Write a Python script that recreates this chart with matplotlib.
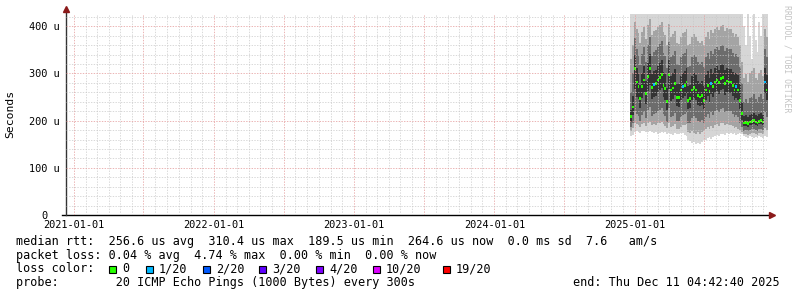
import numpy as np
import pandas as pd
import matplotlib
matplotlib.use('Agg')
import matplotlib.pyplot as plt
import matplotlib.dates as mdates
from matplotlib.ticker import MultipleLocator, FuncFormatter
from matplotlib.patches import Rectangle

W, H = 797, 297
MONO = 'DejaVu Sans Mono'

# rrd samples, 5 day steps, values in microseconds
times = pd.date_range('2024-12-19', periods=72, freq='5D')

median_us = [208, 229, 310, 282, 272, 247, 273, 286, 258, 293,
             310, 270, 277, 279, 286, 291, 298, 275, 268, 240,
             298, 265, 269, 279, 249, 249, 265, 272, 275, 282,
             243, 247, 265, 270, 265, 254, 250, 254, 243, 265,
             275, 261, 279, 273, 282, 286, 280, 289, 291, 279,
             284, 282, 282, 275, 265, 272, 265, 243, 215, 195,
             196, 194, 197, 198, 200, 197, 195, 199, 200, 197,
             282, 265]

# lost pings out of 20
loss = [0, 0, 0, 0, 0, 0, 0, 0, 0, 0,
        0, 0, 1, 0, 0, 0, 0, 0, 0, 0,
        0, 0, 0, 0, 0, 0, 0, 1, 0, 0,
        0, 0, 0, 0, 0, 0, 0, 0, 0, 0,
        0, 0, 1, 0, 0, 0, 0, 0, 0, 0,
        0, 0, 0, 0, 0, 1, 0, 0, 0, 0,
        0, 0, 0, 0, 0, 0, 0, 0, 0, 0,
        1, 0]

# smoke: ping distribution per step
ping_min = [168, 170, 175, 178, 176, 174, 177, 178, 175, 176,
            178, 176, 174, 175, 172, 174, 176, 173, 175, 172,
            174, 172, 170, 173, 171, 172, 174, 173, 170, 168,
            160, 156, 152, 155, 150, 153, 151, 155, 158, 160,
            163, 165, 162, 166, 168, 170, 167, 171, 172, 170,
            173, 172, 174, 171, 173, 170, 172, 174, 171, 168,
            166, 164, 167, 165, 163, 166, 164, 167, 165, 163,
            168, 166]
ping_p10 = [178, 185, 196, 192, 190, 186, 192, 194, 188, 196,
            198, 190, 192, 190, 194, 195, 197, 192, 189, 184,
            196, 187, 189, 192, 183, 182, 187, 190, 191, 193,
            176, 174, 178, 173, 171, 175, 172, 176, 178, 182,
            186, 182, 189, 185, 191, 192, 188, 194, 195, 190,
            192, 191, 190, 188, 184, 187, 182, 180, 176, 172,
            171, 170, 172, 173, 174, 171, 170, 173, 174, 171,
            184, 180]
ping_p25 = [186, 196, 220, 214, 210, 200, 212, 218, 205, 222,
            228, 210, 215, 216, 220, 222, 226, 214, 210, 198,
            226, 208, 210, 216, 200, 199, 208, 212, 214, 218,
            194, 196, 206, 210, 205, 200, 198, 202, 196, 208,
            214, 206, 218, 212, 220, 222, 218, 224, 226, 218,
            221, 220, 220, 214, 208, 212, 208, 196, 186, 179,
            180, 178, 181, 182, 183, 181, 179, 182, 183, 180,
            218, 208]
ping_p40 = [198, 212, 268, 250, 245, 226, 248, 258, 236, 262,
            275, 245, 250, 252, 260, 264, 270, 250, 244, 222,
            268, 242, 246, 254, 230, 229, 243, 248, 252, 258,
            224, 227, 243, 248, 243, 234, 230, 234, 224, 243,
            252, 240, 256, 250, 258, 262, 256, 264, 266, 255,
            260, 258, 258, 252, 243, 248, 243, 224, 202, 188,
            189, 187, 190, 191, 193, 190, 188, 192, 193, 190,
            258, 243]
ping_p60 = [222, 252, 340, 312, 300, 275, 302, 316, 285, 322,
            342, 298, 306, 308, 316, 322, 328, 304, 298, 270,
            328, 294, 300, 310, 280, 278, 295, 302, 305, 312,
            274, 276, 295, 300, 296, 284, 280, 284, 274, 296,
            305, 290, 310, 302, 312, 316, 308, 318, 320, 308,
            312, 310, 310, 304, 296, 302, 296, 278, 240, 210,
            212, 208, 213, 214, 216, 212, 209, 215, 216, 212,
            312, 296]
ping_p75 = [260, 300, 375, 352, 340, 318, 342, 356, 325, 360,
            378, 338, 346, 350, 356, 362, 368, 344, 338, 312,
            366, 334, 340, 348, 320, 318, 334, 342, 344, 352,
            314, 316, 334, 340, 334, 324, 320, 324, 314, 334,
            344, 330, 348, 342, 352, 356, 350, 358, 360, 348,
            354, 352, 352, 344, 334, 342, 334, 314, 280, 240,
            246, 238, 248, 250, 256, 246, 240, 250, 256, 246,
            352, 334]
ping_p90 = [330, 360, 410, 395, 385, 365, 388, 398, 372, 402,
            415, 382, 390, 392, 398, 402, 408, 388, 382, 360,
            405, 378, 384, 390, 365, 362, 378, 385, 388, 395,
            360, 362, 378, 384, 378, 368, 364, 368, 360, 378,
            388, 374, 392, 386, 395, 398, 392, 400, 402, 390,
            396, 394, 394, 386, 378, 384, 378, 360, 325, 290,
            298, 282, 300, 306, 312, 290, 286, 302, 308, 294,
            395, 378]
ping_max = [430, 430, 430, 430, 430, 430, 430, 430, 430, 430,
            430, 430, 430, 430, 430, 430, 430, 430, 430, 430,
            430, 430, 430, 430, 430, 430, 430, 430, 430, 430,
            430, 430, 430, 430, 430, 430, 430, 430, 430, 430,
            430, 430, 430, 430, 430, 430, 430, 430, 430, 430,
            430, 430, 430, 430, 430, 430, 430, 430, 430, 400,
            360, 430, 380, 330, 430, 370, 345, 410, 380, 430,
            430, 430]

loss_levels = [0, 1, 2, 3, 4, 10, 19]
loss_labels = ['0', '1/20', '2/20', '3/20', '4/20', '10/20', '19/20']
loss_colors = ['#26ff00', '#00b8ff', '#0059ff', '#5e00ff', '#7e00ff', '#dd00ff', '#ff0000']

start = pd.Timestamp('2020-12-11 04:42:40')
end = pd.Timestamp('2025-12-11 04:42:40')

fig = plt.figure(figsize=(W / 100, H / 100), dpi=100)
fig.patch.set_facecolor('white')
ax = fig.add_axes([66 / W, (H - 215) / H, (767 - 66) / W, (215 - 14) / H])

x = mdates.date2num(times.to_pydatetime())
step = 5.0
xe = np.append(x, x[-1] + step)

def ext(v):
    return list(v) + [v[-1]]

# smoke layers, outer light -> inner dark
bands = [(ping_min, ping_max, '#d6d6d6'),
         (ping_p10, ping_p90, '#a4a4a4'),
         (ping_p25, ping_p75, '#6c6c6c'),
         (ping_p40, ping_p60, '#333333')]
for lo, hi, c in bands:
    ax.fill_between(xe, ext(lo), ext(hi), step='post', color=c, linewidth=0)

# median, coloured by loss
cols = []
for l in loss:
    idx = max(i for i, lv in enumerate(loss_levels) if lv <= l)
    cols.append(loss_colors[idx])
med = np.array(median_us)
ax.bar(x, [6] * len(med), bottom=med - 3, width=step, align='edge',
       color=cols, linewidth=0, zorder=2)

ax.set_xlim(mdates.date2num(start.to_pydatetime()), mdates.date2num(end.to_pydatetime()))
ax.set_ylim(0, 426)

ax.xaxis.set_major_locator(mdates.MonthLocator(bymonth=[1, 7]))
ax.xaxis.set_minor_locator(mdates.MonthLocator())
ax.xaxis.set_major_formatter(FuncFormatter(
    lambda v, p: mdates.num2date(v).strftime('%Y-%m-%d') if mdates.num2date(v).month == 1 else ''))
ax.yaxis.set_major_locator(MultipleLocator(100))
ax.yaxis.set_minor_locator(MultipleLocator(20))
ax.yaxis.set_major_formatter(FuncFormatter(lambda v, p: '0  ' if v == 0 else f'{v:.0f} u'))

ax.set_axisbelow(False)
ax.grid(which='minor', color='#c8c8c8', linestyle=(0, (1.4, 1.4)), linewidth=0.7, alpha=0.7)
ax.grid(which='major', color='#e6a0a0', linestyle=(0, (1.4, 1.4)), linewidth=0.7, alpha=0.8)
ax.tick_params(axis='both', which='both', length=0)
ax.tick_params(axis='x', pad=3.5, labelsize=7.4)
ax.tick_params(axis='y', pad=4.3, labelsize=7.4)
for lab in ax.get_xticklabels() + ax.get_yticklabels():
    lab.set_fontfamily(MONO)

for s in ax.spines.values():
    s.set_visible(False)

# axes with arrows
aw, ah = 701.0, 201.0
ax.plot([-4 / aw, 1 + 3 / aw], [0, 0], color='black', lw=1, transform=ax.transAxes, clip_on=False)
ax.plot([0, 0], [0, 1 + 4 / ah], color='#333333', lw=1, transform=ax.transAxes, clip_on=False)
ax.plot([1 + 5 / aw], [0], marker='>', color='#8b1a1a', ms=4, transform=ax.transAxes, clip_on=False)
ax.plot([0], [1 + 5 / ah], marker='^', color='#8b1a1a', ms=4, transform=ax.transAxes, clip_on=False)

fig.text(10 / W, 1 - 114 / H, 'Seconds', rotation=90, ha='center', va='center',
         family=MONO, fontsize=8.2)
fig.text(787 / W, 1 - 5 / H, 'RRDTOOL / TOBI OETIKER', rotation=270, ha='center', va='top',
         family=MONO, fontsize=5.9, color='#c4c4c4')

# legend lines
fs = 8.5
rows = [241, 255.5, 269, 282.5]
fig.text(16 / W, 1 - rows[0] / H,
         'median rtt:  256.6 us avg  310.4 us max  189.5 us min  264.6 us now  0.0 ms sd  7.6   am/s',
         family=MONO, fontsize=fs, va='center')
fig.text(16 / W, 1 - rows[1] / H,
         'packet loss: 0.04 % avg  4.74 % max  0.00 % min  0.00 % now',
         family=MONO, fontsize=fs, va='center')
fig.text(16 / W, 1 - rows[2] / H, 'loss color:', family=MONO, fontsize=fs, va='center')
box_x = [109, 146, 203, 259, 316, 373, 443]
for bx, lab, c in zip(box_x, loss_labels, loss_colors):
    fig.add_artist(Rectangle((bx / W, 1 - (rows[2] + 3.5) / H), 7 / W, 7 / H,
                             transform=fig.transFigure, facecolor=c, edgecolor='black', lw=0.8))
    fig.text((bx + 13) / W, 1 - rows[2] / H, lab, family=MONO, fontsize=fs, va='center')
fig.text(16 / W, 1 - rows[3] / H, 'probe:        20 ICMP Echo Pings (1000 Bytes) every 300s',
         family=MONO, fontsize=fs, va='center')
fig.text(780 / W, 1 - rows[3] / H, 'end: Thu Dec 11 04:42:40 2025',
         family=MONO, fontsize=fs, va='center', ha='right')

fig.savefig('out.png', dpi=100)
